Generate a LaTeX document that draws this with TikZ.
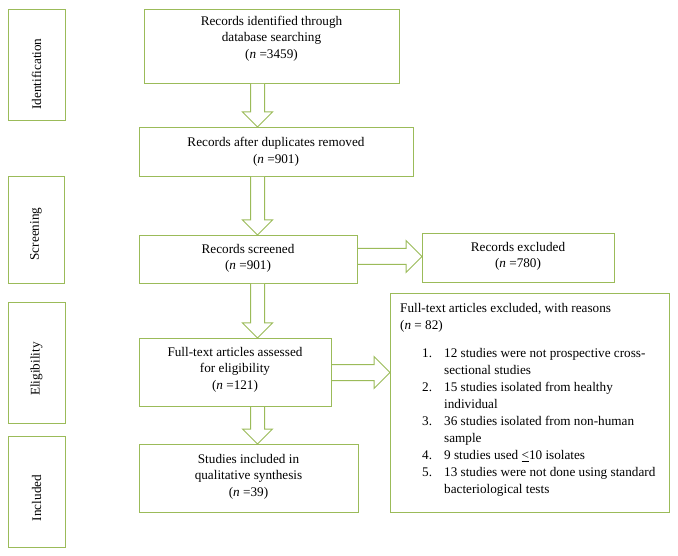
\documentclass[tikz,border=0pt]{standalone}
\usepackage{fontspec}
\setmainfont{Liberation Serif}
\usetikzlibrary{calc}
\definecolor{gr}{RGB}{155,187,89}
\newcommand\darr[2]{\draw[blk] let \p1=(#1), \p2=(#2) in (\x1-7pt,\y1) -- (\x1-7pt,\y2+15pt) -- (\x1-15pt,\y2+15pt) -- (\x2,\y2) -- (\x1+15pt,\y2+15pt) -- (\x1+7pt,\y2+15pt) -- (\x1+7pt,\y1);}
\newcommand\rarr[2]{\draw[blk] let \p1=(#1), \p2=(#2) in (\x1,\y1+8pt) -- (\x2-16pt,\y1+8pt) -- (\x2-16pt,\y1+16pt) -- (\x2,\y1) -- (\x2-16pt,\y1-16pt) -- (\x2-16pt,\y1-8pt) -- (\x1,\y1-8pt);}
\begin{document}
\begin{tikzpicture}[x=1pt,y=-1pt,
  box/.style={draw=gr,line width=1pt,fill=white,inner sep=0pt,anchor=north west},
  txt/.style={font=\fontsize{13.2}{16.5}\selectfont,align=center,inner sep=0pt},
  side/.style={txt,rotate=90},
  blk/.style={draw=gr,line width=1pt,fill=white,line join=miter}]
\useasboundingbox (0,0) rectangle (678,556);
% stage boxes
\node[box,minimum width=57pt,minimum height=111pt] (sid) at (8,9) {};
\node[box,minimum width=56pt,minimum height=107pt] (ssc) at (8,176) {};
\node[box,minimum width=57pt,minimum height=121pt] (sel) at (8,302) {};
\node[box,minimum width=57pt,minimum height=111pt] (sin) at (8,436) {};
\node[side] (tid) at (36.5,74) {Identification};
\node[side] (tsc) at (36,234) {Screening};
\node[side] (tel) at (36.5,369) {Eligibility};
\node[side] (tin) at (36.5,498) {Included};
% main boxes
\node[box,minimum width=255pt,minimum height=74pt] (b1) at (144,9) {};
\node[box,minimum width=274pt,minimum height=49pt] (b2) at (139,127) {};
\node[box,minimum width=218pt,minimum height=48pt] (b3) at (139,235) {};
\node[box,minimum width=192pt,minimum height=49pt] (bx) at (422,233) {};
\node[box,minimum width=192pt,minimum height=68pt] (b4) at (139,338) {};
\node[box,minimum width=219pt,minimum height=68pt] (b5) at (139,444) {};
\node[box,minimum width=279pt,minimum height=219pt] (bf) at (390,293) {};
\node[txt] (t1) at (271.5,38.5) {Records identified through\\database searching\\(\textit{n} =3459)};
\node[txt] (t2) at (276,152) {Records after duplicates removed\\(\textit{n} =901)};
\node[txt] (t3) at (248,258.5) {Records screened\\(\textit{n} =901)};
\node[txt] (tx) at (518,256.5) {Records excluded\\(\textit{n} =780)};
\node[txt] (t4) at (235,369.5) {Full-text articles assessed\\for eligibility\\(\textit{n} =121)};
\node[txt] (t5) at (248.5,476.5) {Studies included in\\qualitative synthesis\\(\textit{n} =39)};
\node[txt,align=left,anchor=north west,font=\fontsize{13.2}{17}\selectfont] (tf) at (400,303) {Full-text articles excluded, with reasons\\
(\textit{n} = 82)\\[11pt]
\hspace*{22pt}\makebox[22pt][l]{1.}12 studies were not prospective cross-\\
\hspace*{44pt}sectional studies\\
\hspace*{22pt}\makebox[22pt][l]{2.}15 studies isolated from healthy\\
\hspace*{44pt}individual\\
\hspace*{22pt}\makebox[22pt][l]{3.}36 studies isolated from non-human\\
\hspace*{44pt}sample\\
\hspace*{22pt}\makebox[22pt][l]{4.}9 studies used \underline{<}10 isolates\\
\hspace*{22pt}\makebox[22pt][l]{5.}13 studies were not done using standard\\
\hspace*{44pt}bacteriological tests};
% arrows
\coordinate (ax) at (257.5,0);
\coordinate (ay) at (0,256.5);
\darr{b1.south -| ax}{b2.north -| ax}
\darr{b2.south -| ax}{b3.north -| ax}
\darr{b3.south -| ax}{b4.north -| ax}
\darr{b4.south -| ax}{b5.north -| ax}
\rarr{b3.east |- ay}{bx.west |- ay}
\rarr{b4.east}{bf.west |- b4.east}
\end{tikzpicture}
\end{document}
